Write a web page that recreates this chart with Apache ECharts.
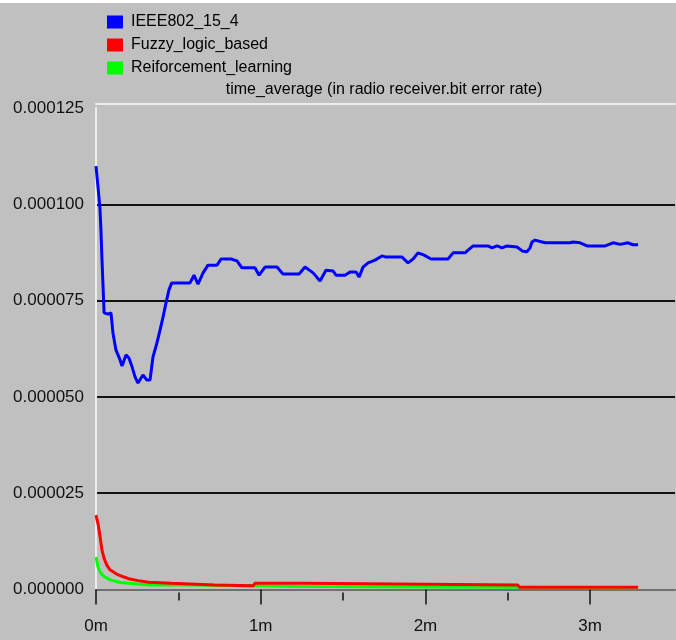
<!DOCTYPE html>
<html>
<head>
<meta charset="utf-8">
<script src="https://cdn.jsdelivr.net/npm/echarts@6/dist/echarts.min.js"></script>
<style>
  html, body { margin: 0; padding: 0; background: #fff; }
  #chart { width: 676px; height: 640px; }
</style>
</head>
<body>
<div id="chart"></div>
<script>
// series names / colours
const seriesNames = ['IEEE802_15_4', 'Fuzzy_logic_based', 'Reiforcement_learning'];
const seriesColors = ['#0000ff', '#ff0000', '#00ff00'];

// axis ticks (minutes) and y ticks
const xMajorTicks = [0, 1, 2, 3];
const xMinorTicks = [0.5, 1.5, 2.5];
const yMax = 0.000125;
const yStep = 0.000025;

// IEEE802_15_4 : time (min) / bit error rate (x 1e-6)
const ieeeTime = [0, 0.012, 0.024, 0.030, 0.036, 0.043, 0.049, 0.073, 0.091, 0.103,
  0.121, 0.146, 0.158, 0.182, 0.200, 0.219, 0.237, 0.255, 0.285, 0.308,
  0.328, 0.346, 0.370, 0.389, 0.407, 0.425, 0.443, 0.460, 0.571, 0.595,
  0.619, 0.631, 0.650, 0.680, 0.735, 0.759, 0.820, 0.856, 0.886, 0.965,
  0.990, 1.026, 1.099, 1.135, 1.233, 1.269, 1.318, 1.360, 1.396, 1.439,
  1.457, 1.512, 1.542, 1.579, 1.597, 1.621, 1.652, 1.694, 1.736, 1.761,
  1.858, 1.894, 1.925, 1.955, 1.992, 2.034, 2.137, 2.168, 2.240, 2.289,
  2.380, 2.404, 2.435, 2.465, 2.495, 2.556, 2.587, 2.617, 2.635, 2.647,
  2.665, 2.726, 2.878, 2.896, 2.939, 2.981, 3.091, 3.139, 3.182, 3.230,
  3.260, 3.291];
const ieeeBer = [109.9, 104.6, 99.0, 93.3, 86.1, 78.5, 71.8, 71.5, 71.8, 66.6,
  62.2, 59.6, 58.0, 60.9, 60.1, 57.8, 55.2, 53.6, 55.7, 54.4,
  54.4, 60.4, 64.0, 67.4, 70.7, 74.4, 77.8, 79.6, 79.6, 81.6,
  79.3, 79.0, 82.2, 84.2, 84.2, 85.8, 85.8, 85.3, 83.5, 83.5,
  81.6, 83.7, 83.7, 81.9, 81.9, 83.7, 82.2, 80.1, 82.9, 82.7,
  81.6, 81.6, 82.4, 82.4, 81.1, 83.7, 84.8, 85.5, 86.6, 86.3,
  86.3, 84.8, 85.8, 87.4, 86.8, 85.8, 85.8, 87.4, 87.4, 89.2,
  89.2, 88.7, 89.2, 88.7, 89.2, 88.9, 87.9, 87.7, 88.7, 90.2,
  90.7, 90.0, 90.0, 90.2, 90.0, 89.2, 89.2, 90.0, 89.6, 90.0,
  89.5, 89.5];

// Fuzzy_logic_based
const fuzzyTime = [0, 0.014, 0.028, 0.036, 0.049, 0.065, 0.085, 0.125, 0.166, 0.206,
  0.257, 0.320, 0.330, 0.460, 0.470, 0.720, 0.730, 0.955, 0.965, 1.255,
  1.265, 2.560, 2.570, 3.291];
const fuzzyBer = [19.3, 16.7, 12.8, 10.3, 8.1, 6.4, 5.1, 4.0, 3.3, 2.7,
  2.3, 1.9, 1.6, 1.6, 1.2, 1.2, 1.0, 1.0, 1.6, 1.6,
  1.2, 1.2, 0.6, 0.6];

// Reiforcement_learning
const rlTime = [0, 0.012, 0.024, 0.045, 0.085, 0.146, 0.250, 0.330, 0.600, 0.610, 1.270, 1.280, 3.291];
const rlBer = [8.4, 5.9, 4.6, 3.5, 2.5, 1.8, 1.4, 1.15, 1.15, 0.75, 0.75, 0.45, 0.45];

const FONT = '"Liberation Sans", Arial, sans-serif';

function pairs(t, v) {
  return t.map((x, i) => [x, v[i] * 1e-6]);
}

const chart = echarts.init(document.getElementById('chart'), null, { renderer: 'canvas' });

const lineSeries = [
  { name: seriesNames[0], data: pairs(ieeeTime, ieeeBer), z: 4 },
  { name: seriesNames[1], data: pairs(fuzzyTime, fuzzyBer), z: 3 },
  { name: seriesNames[2], data: pairs(rlTime, rlBer), z: 2 }
].map((s, i) => ({
  type: 'line',
  name: s.name,
  data: s.data,
  z: s.z,
  xAxisIndex: 0,
  yAxisIndex: 0,
  symbol: 'none',
  color: seriesColors[i],
  lineStyle: { width: 3, color: seriesColors[i] }
}));

const option = {
  animation: false,
  backgroundColor: '#c0c0c0',
  graphic: [
    { type: 'rect', shape: { x: 0, y: 0, width: 676, height: 3 }, style: { fill: '#ffffff' } },
    {
      type: 'text',
      style: {
        x: 384, y: 90,
        text: 'time_average (in radio receiver.bit error rate)',
        font: '16px ' + FONT,
        fill: '#000',
        textAlign: 'center',
        textVerticalAlign: 'middle'
      }
    }
  ],
  legend: {
    orient: 'vertical',
    left: 102,
    top: 8,
    icon: 'rect',
    itemWidth: 16,
    itemHeight: 13,
    itemGap: 5,
    data: seriesNames,
    textStyle: { fontSize: 16, fontFamily: FONT, color: '#000', lineHeight: 18, padding: [0, 0, 0, 3] }
  },
  grid: { left: 96, right: 1, top: 108, bottom: 50.5, containLabel: false },
  xAxis: [
    {
      type: 'value',
      min: 0,
      max: 3.515,
      position: 'bottom',
      offset: 3,
      splitLine: { show: false },
      axisLine: { show: true, lineStyle: { color: '#707070', width: 2 } },
      axisTick: { show: true, customValues: xMajorTicks, length: 15, lineStyle: { color: '#111', width: 1.5 } },
      axisLabel: {
        customValues: xMajorTicks,
        margin: 25,
        fontSize: 17,
        fontFamily: FONT,
        color: '#111',
        formatter: v => v + 'm'
      }
    },
    {
      type: 'value',
      min: 0,
      max: 3.515,
      position: 'bottom',
      offset: 3,
      splitLine: { show: false },
      axisLine: { show: false },
      axisTick: { show: true, customValues: xMinorTicks, length: 8, lineStyle: { color: '#111', width: 1.5 } },
      axisLabel: { show: false }
    },
    {
      type: 'value',
      min: 0,
      max: 3.515,
      position: 'top',
      offset: 4,
      splitLine: { show: false },
      axisLine: { show: true, lineStyle: { color: '#ececec', width: 2 } },
      axisTick: { show: false },
      axisLabel: { show: false }
    }
  ],
  yAxis: {
    type: 'value',
    min: 0,
    max: yMax,
    interval: yStep,
    offset: 3,
    axisLine: { show: true, lineStyle: { color: '#ececec', width: 2 } },
    axisTick: { show: false },
    splitLine: { show: true, showMinLine: false, showMaxLine: false, lineStyle: { color: '#111', width: 2 } },
    axisLabel: {
      margin: 9,
      fontSize: 17,
      fontFamily: FONT,
      color: '#111',
      formatter: v => v.toFixed(6)
    }
  },
  series: lineSeries
};

chart.setOption(option);
</script>
</body>
</html>
